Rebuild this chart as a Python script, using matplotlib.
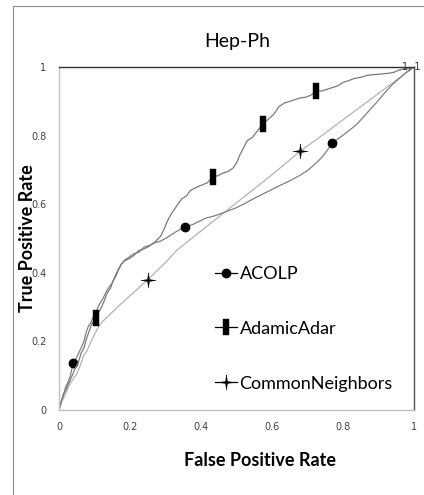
import numpy as np
import matplotlib
matplotlib.use("Agg")
from matplotlib import pyplot as plt
from matplotlib.lines import Line2D
from matplotlib.path import Path

# ROC curves, Hep-Ph
acolp_fpr = [0, 0.006, 0.012, 0.018, 0.025, 0.032, 0.04, 0.048, 0.055, 0.062, 0.07, 0.076,
             0.083, 0.09, 0.098, 0.106, 0.115, 0.124, 0.133, 0.142, 0.15, 0.158, 0.167, 0.176,
             0.186, 0.197, 0.21, 0.225, 0.24, 0.255, 0.27, 0.285, 0.3, 0.315, 0.33, 0.355,
             0.375, 0.395, 0.415, 0.435, 0.455, 0.475, 0.5, 0.525, 0.55, 0.575, 0.6, 0.625,
             0.65, 0.675, 0.7, 0.72, 0.74, 0.755, 0.77, 0.785, 0.8, 0.82, 0.84, 0.86, 0.88,
             0.9, 0.92, 0.94, 0.96, 0.98, 1]
acolp_tpr = [0, 0.025, 0.04, 0.065, 0.08, 0.1, 0.137, 0.15, 0.165, 0.18, 0.2, 0.225,
             0.245, 0.255, 0.275, 0.29, 0.31, 0.325, 0.345, 0.36, 0.37, 0.39, 0.41, 0.425,
             0.438, 0.445, 0.455, 0.46, 0.475, 0.48, 0.488, 0.492, 0.5, 0.51, 0.52, 0.534,
             0.54, 0.55, 0.56, 0.565, 0.572, 0.58, 0.59, 0.603, 0.617, 0.63, 0.643, 0.656,
             0.668, 0.682, 0.698, 0.716, 0.736, 0.756, 0.778, 0.79, 0.801, 0.817, 0.834, 0.857,
             0.88, 0.903, 0.928, 0.95, 0.968, 0.986, 1]
acolp_marks = [0.04, 0.355, 0.77]

aa_fpr = [0, 0.005, 0.012, 0.02, 0.028, 0.035, 0.045, 0.055, 0.062, 0.07, 0.078, 0.085,
          0.092, 0.105, 0.112, 0.12, 0.128, 0.135, 0.145, 0.152, 0.16, 0.168, 0.175, 0.185,
          0.195, 0.21, 0.225, 0.24, 0.255, 0.27, 0.285, 0.295, 0.305, 0.315, 0.325, 0.335,
          0.345, 0.36, 0.37, 0.385, 0.4, 0.417, 0.434, 0.447, 0.46, 0.475, 0.49, 0.5, 0.51,
          0.52, 0.53, 0.545, 0.56, 0.575, 0.59, 0.605, 0.62, 0.635, 0.65, 0.665, 0.68,
          0.695, 0.71, 0.723, 0.74, 0.755, 0.77, 0.785, 0.8, 0.815, 0.83, 0.85, 0.87, 0.89,
          0.91, 0.93, 0.945, 0.955, 0.965, 0.98, 1]
aa_tpr = [0, 0.02, 0.045, 0.06, 0.08, 0.095, 0.12, 0.14, 0.165, 0.18, 0.21, 0.23,
          0.25, 0.268, 0.285, 0.3, 0.32, 0.34, 0.355, 0.375, 0.39, 0.41, 0.425, 0.435,
          0.44, 0.45, 0.465, 0.47, 0.478, 0.49, 0.505, 0.525, 0.55, 0.57, 0.585, 0.6,
          0.615, 0.625, 0.64, 0.648, 0.655, 0.662, 0.679, 0.683, 0.69, 0.695, 0.705, 0.72,
          0.745, 0.765, 0.785, 0.795, 0.815, 0.835, 0.848, 0.862, 0.885, 0.895, 0.9, 0.905,
          0.91, 0.912, 0.918, 0.93, 0.93, 0.935, 0.94, 0.945, 0.955, 0.96, 0.966, 0.97,
          0.976, 0.978, 0.98, 0.982, 0.985, 0.99, 0.993, 0.996, 1]
aa_marks = [0.105, 0.434, 0.575, 0.723]

cn_fpr = [0, 0.01, 0.02, 0.03, 0.04, 0.05, 0.06, 0.07, 0.08, 0.09, 0.1, 0.11, 0.12, 0.14,
          0.17, 0.2, 0.25, 0.3, 0.332, 0.4, 0.5, 0.6, 0.68, 0.735, 0.8, 0.9, 1]
cn_tpr = [0, 0.03, 0.05, 0.075, 0.09, 0.105, 0.13, 0.16, 0.175, 0.2, 0.22, 0.24, 0.255, 0.275,
          0.305, 0.333, 0.38, 0.43, 0.466, 0.522, 0.604, 0.686, 0.755, 0.796, 0.846, 0.923, 1]
cn_marks = [0.25, 0.68]

labels = ["ACOLP", "AdamicAdar", "CommonNeighbors"]

# marker shapes
bar_marker = Path([(-0.18, -0.5), (0.18, -0.5), (0.18, 0.5), (-0.18, 0.5), (-0.18, -0.5)])
s = 0.12
star_marker = Path([(0, 1), (s, s), (1, 0), (s, -s), (0, -1), (-s, -s), (-1, 0), (-s, s), (0, 1)])

def mark_idx(xs, marks):
    xs = np.array(xs)
    return [int(np.argmin(np.abs(xs - m))) for m in marks]

fig = plt.figure(figsize=(4.24, 4.95), dpi=100)
ax = fig.add_axes([59 / 424, 85 / 495, 355 / 424, 343 / 495])

ax.plot(cn_fpr, cn_tpr, color="#b3b3b3", lw=0.9, marker=star_marker, ms=11,
        mfc="black", mec="black", mew=0.3, markevery=mark_idx(cn_fpr, cn_marks))
ax.plot(acolp_fpr, acolp_tpr, color="#808080", lw=0.9, marker="o", ms=6,
        mfc="black", mec="black", markevery=mark_idx(acolp_fpr, acolp_marks))
ax.plot(aa_fpr, aa_tpr, color="#7a7a7a", lw=0.9, marker=bar_marker, ms=11,
        mfc="black", mec="black", mew=0.3, markevery=mark_idx(aa_fpr, aa_marks))

ax.annotate("1, 1", (1, 1), xytext=(-2, 0), textcoords="offset points", ha="center",
            va="center", fontsize=7, color="#333333", family="DejaVu Sans", annotation_clip=False)

ax.set_xlim(0, 1)
ax.set_ylim(0, 1)
ax.set_xticks([0, 0.2, 0.4, 0.6, 0.8, 1])
ax.set_yticks([0, 0.2, 0.4, 0.6, 0.8, 1])
ax.set_xticklabels(["0", "0.2", "0.4", "0.6", "0.8", "1"])
ax.set_yticklabels(["0", "0.2", "0.4", "0.6", "0.8", "1"])
ax.tick_params(length=0, labelsize=7, labelcolor="#404040", pad=9)

ax.spines["top"].set_color("#303030")
ax.spines["right"].set_color("#505050")
ax.spines["left"].set_color("#c0c0c0")
ax.spines["bottom"].set_color("#c0c0c0")
for sp in ax.spines.values():
    sp.set_linewidth(1.0)

ax.set_xlabel("False Positive Rate", fontsize=13, fontweight="bold", family="Lato")
ax.set_ylabel("True Positive Rate", fontsize=13, fontweight="bold", family="Lato")
ax.xaxis.set_label_coords(0.566, -0.146)
ax.yaxis.set_label_coords(-0.09, 0.5)
ax.xaxis.label.set_va("center")
ax.yaxis.label.set_va("center")

fig.text(237 / 424, 1 - 42 / 495, "Hep-Ph", ha="center", va="center", fontsize=14, family="Lato")

handles = [
    Line2D([], [], color="black", lw=0.9, marker="o", ms=6),
    Line2D([], [], color="black", lw=0.9, marker=bar_marker, ms=11, mew=0.3),
    Line2D([], [], color="black", lw=0.9, marker=star_marker, ms=11, mew=0.3),
]
ax.legend(handles, labels, loc="upper left", bbox_to_anchor=(0.44, 0.42), frameon=False,
          prop={"family": "Lato", "size": 13}, handlelength=1.2, handletextpad=0.15,
          labelspacing=2.15, borderpad=0, borderaxespad=0)

# outer chart border (left and top)
fig.add_artist(Line2D([13 / 424, 13 / 424], [0, 1 - 6 / 495], color="#8c8c8c", lw=0.8,
                      transform=fig.transFigure))
fig.add_artist(Line2D([13 / 424, 1], [1 - 6 / 495, 1 - 6 / 495], color="#8c8c8c", lw=0.8,
                      transform=fig.transFigure))

fig.savefig("out.png", dpi=100)
